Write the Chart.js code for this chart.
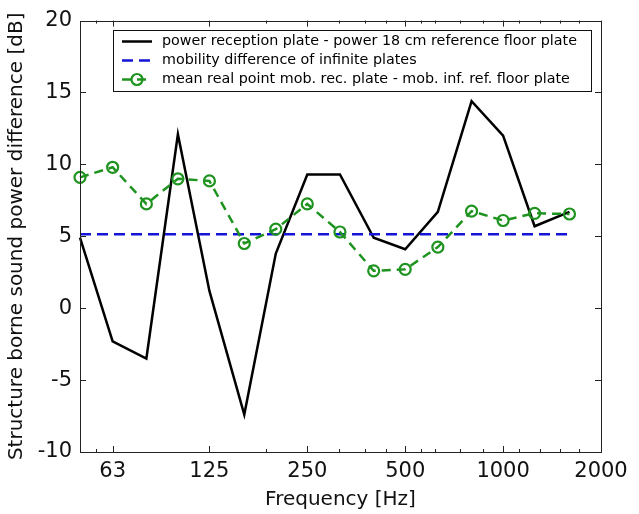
<!DOCTYPE html>
<html><head><meta charset="utf-8">
<script src="https://cdn.jsdelivr.net/npm/chart.js@4/dist/chart.umd.min.js"></script>
<style>html,body{margin:0;padding:0;background:#fff;} #wrap{width:639px;height:514px;}</style>
</head><body><div id="wrap"><canvas id="c" width="639" height="514"></canvas></div>
<script>
// third-octave band centre frequencies [Hz]
const frequencies = [50, 63, 80, 100, 125, 160, 200, 250, 315, 400, 500, 630, 800, 1000, 1250, 1600];
// labelled x ticks and unlabelled minor ticks
const majorTicks = [63, 125, 250, 500, 1000, 2000];
const minorTicks = [56, 187, 312, 375, 437, 560, 619, 738, 866, 1123, 1294, 1491, 1709];
const yTicks = [-10, -5, 0, 5, 10, 15, 20];
// series values [dB]
const powerDifference = [4.9, -2.3, -3.5, 12.1, 1.2, -7.4, 3.8, 9.3, 9.3, 4.9, 4.1, 6.7, 14.4, 12.0, 5.7, 6.7];
const mobilityInfinite = [5.15, 5.15, 5.15, 5.15, 5.15, 5.15, 5.15, 5.15, 5.15, 5.15, 5.15, 5.15, 5.15, 5.15, 5.15, 5.15];
const meanRealPoint = [9.1, 9.8, 7.25, 9.0, 8.85, 4.5, 5.5, 7.25, 5.3, 2.6, 2.7, 4.25, 6.75, 6.1, 6.6, 6.55];
const seriesLabels = [
  'power reception plate - power 18 cm reference floor plate',
  'mobility difference of infinite plates',
  'mean real point mob. rec. plate - mob. inf. ref. floor plate'
];

const FONT = "'DejaVu Sans', sans-serif";
const toXY = arr => frequencies.map((f, i) => ({x: f, y: arr[i]}));

const frame = {
  id: 'frame',
  afterDraw(chart) {
    const ctx = chart.ctx, a = chart.chartArea;
    const xs = chart.scales.x, ys = chart.scales.y;
    ctx.save();
    ctx.strokeStyle = '#222';
    ctx.lineWidth = 1;
    ctx.beginPath();
    majorTicks.forEach(v => {
      const p = Math.round(xs.getPixelForValue(v)) + 0.5;
      ctx.moveTo(p, a.bottom); ctx.lineTo(p, a.bottom - 6);
      ctx.moveTo(p, a.top); ctx.lineTo(p, a.top + 6);
    });
    minorTicks.forEach(v => {
      const p = Math.round(xs.getPixelForValue(v)) + 0.5;
      ctx.moveTo(p, a.bottom); ctx.lineTo(p, a.bottom - 3);
      ctx.moveTo(p, a.top); ctx.lineTo(p, a.top + 3);
    });
    yTicks.forEach(v => {
      const p = Math.round(ys.getPixelForValue(v)) + 0.5;
      ctx.moveTo(a.left, p); ctx.lineTo(a.left + 6, p);
      ctx.moveTo(a.right, p); ctx.lineTo(a.right - 6, p);
    });
    ctx.stroke();
    ctx.strokeRect(Math.round(a.left) + 0.5, Math.round(a.top) + 0.5, Math.round(a.right - a.left), Math.round(a.bottom - a.top));

    // legend box
    const bx = 113.5, by = 30.5, bw = 478, bh = 61;
    ctx.fillStyle = '#fff';
    ctx.fillRect(bx, by, bw, bh);
    ctx.strokeStyle = '#111';
    ctx.strokeRect(bx, by, bw, bh);
    const rows = [41.5, 60.5, 79.5];
    chart.data.datasets.forEach((ds, i) => {
      const y = rows[i];
      ctx.save();
      ctx.strokeStyle = ds.borderColor;
      ctx.lineWidth = ds.borderWidth;
      ctx.setLineDash(ds.borderDash || []);
      ctx.beginPath(); ctx.moveTo(122, y); ctx.lineTo(152, y); ctx.stroke();
      ctx.setLineDash([]);
      if (ds.pointRadius > 0) {
        ctx.lineWidth = ds.pointBorderWidth;
        ctx.beginPath(); ctx.arc(137, y, ds.pointRadius, 0, Math.PI * 2); ctx.stroke();
      }
      ctx.restore();
      ctx.fillStyle = '#000';
      ctx.font = '14.3px ' + FONT;
      ctx.textBaseline = 'middle';
      ctx.fillText(ds.label, 162, y);
    });
    ctx.restore();
  }
};

new Chart(document.getElementById('c'), {
  type: 'line',
  data: {
    datasets: [
      {label: seriesLabels[0], data: toXY(powerDifference), borderColor: '#000', borderWidth: 2.5,
       pointRadius: 0, order: 3, clip: false},
      {label: seriesLabels[1], data: toXY(mobilityInfinite), borderColor: '#1515d5', borderWidth: 2.5,
       borderDash: [11, 6], pointRadius: 0, order: 2, clip: false},
      {label: seriesLabels[2], data: toXY(meanRealPoint), borderColor: '#1f931f', borderWidth: 2.5,
       borderDash: [9, 6], pointRadius: 5.5, pointBorderWidth: 2.2, pointBorderColor: '#1f931f',
       pointBackgroundColor: 'rgba(0,0,0,0)', order: 1, clip: false}
    ]
  },
  options: {
    responsive: false,
    animation: false,
    devicePixelRatio: 1,
    layout: {padding: {top: 20, right: 38, left: 0, bottom: 0}},
    plugins: {legend: {display: false}, tooltip: {enabled: false}},
    scales: {
      x: {
        type: 'logarithmic', min: 50, max: 2000,
        afterBuildTicks: s => { s.ticks = majorTicks.map(v => ({value: v})); },
        afterFit: s => { s.height = 62; },
        grid: {display: false, drawTicks: false},
        border: {display: false},
        ticks: {autoSkip: false, maxRotation: 0, padding: 7, color: '#111',
                font: {family: FONT, size: 21}, callback: v => String(v)},
        title: {display: true, text: 'Frequency [Hz]', color: '#111',
                font: {family: FONT, size: 20}, padding: {top: 0, bottom: 2}}
      },
      y: {
        type: 'linear', min: -10, max: 20,
        afterBuildTicks: s => { s.ticks = yTicks.map(v => ({value: v})); },
        afterFit: s => { s.width = 80; },
        grid: {display: false, drawTicks: false},
        border: {display: false},
        ticks: {padding: 8, color: '#111', font: {family: FONT, size: 21}},
        title: {display: true, text: 'Structure borne sound power difference [dB]', color: '#111',
                font: {family: FONT, size: 20}, padding: {top: 5, bottom: 0}}
      }
    }
  },
  plugins: [frame]
});
</script>
</body></html>
